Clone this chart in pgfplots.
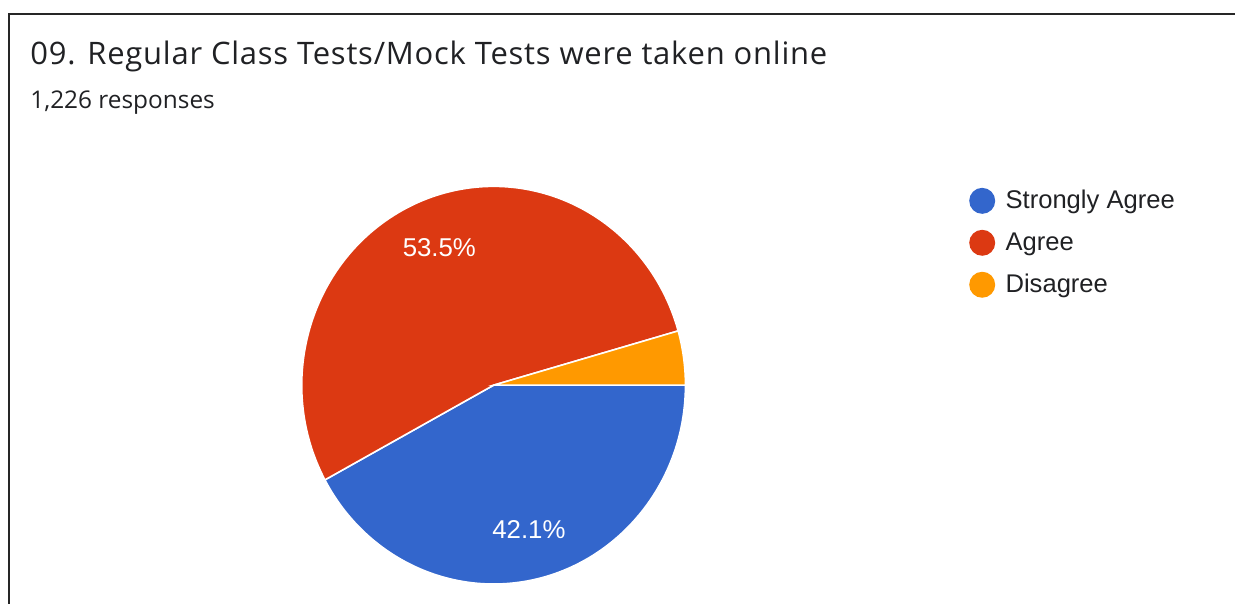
\documentclass[border=0pt]{standalone}
\usepackage{pgfplots}
\pgfplotsset{compat=1.18}
\usepackage{pgfplotstable}
\usetikzlibrary{calc}
\usepackage{fontspec}
\setmainfont{Liberation Sans}
\newfontfamily\gsans{Open Sans}
\newfontfamily\gsanswide[LetterSpace=2.5]{Open Sans}
\definecolor{sa}{HTML}{3366CC}
\definecolor{ag}{HTML}{DC3912}
\definecolor{dis}{HTML}{FF9900}
\definecolor{txt}{HTML}{202124}
\pgfplotstableread{
label value
StronglyAgree 42.1
Agree 53.5
Disagree 4.4
}\piedata
\begin{document}
\begin{tikzpicture}
\pgfplotstablegetelem{0}{value}\of\piedata \let\vA\pgfplotsretval
\pgfplotstablegetelem{1}{value}\of\piedata \let\vB\pgfplotsretval
\pgfplotstablegetelem{2}{value}\of\piedata \let\vC\pgfplotsretval
\pgfmathsetmacro\tot{\vA+\vB+\vC}
\pgfmathsetmacro\aA{-\vA/\tot*360}
\pgfmathsetmacro\aB{\aA-\vB/\tot*360}
\pgfmathsetmacro\mA{\aA/2}
\pgfmathsetmacro\mB{(\aA+\aB)/2}
\begin{axis}[width=618pt,height=302pt,scale only axis,
  xmin=0,xmax=1236,ymin=0,ymax=604,hide axis,clip=false]
\path (axis cs:0,0) rectangle (axis cs:1236,604);
\draw[line width=1pt, color=black!85] (axis cs:9.5,0) -- (axis cs:9.5,590) -- (axis cs:1236,590);
% pie slices
\fill[sa, draw=white, line width=0.8pt] (axis cs:494,218.5) -- ++(0:96pt and 99.5pt)
  arc[start angle=0,end angle=\aA,x radius=96pt,y radius=99.5pt] -- cycle;
\fill[ag, draw=white, line width=0.8pt] (axis cs:494,218.5) -- ++(\aA:96pt and 99.5pt)
  arc[start angle=\aA,end angle=\aB,x radius=96pt,y radius=99.5pt] -- cycle;
\fill[dis, draw=white, line width=0.8pt] (axis cs:494,218.5) -- ++(\aB:96pt and 99.5pt)
  arc[start angle=\aB,end angle=-360,x radius=96pt,y radius=99.5pt] -- cycle;
% slice labels
\node[text=white, font=\fontsize{12.9}{15}\selectfont, inner sep=0pt] at ($(axis cs:494,218.5)+(\mA:72pt and 74.5pt)$) {\vA\%};
\node[text=white, font=\fontsize{12.9}{15}\selectfont, inner sep=0pt] at ($(axis cs:494,218.5)+(\mB:72pt and 74.5pt)$) {\vB\%};
% title
\node[anchor=base west, inner sep=0pt, text=txt, font=\gsanswide\fontsize{15.5}{18}\selectfont] at (axis cs:30,539) {09. Regular Class Tests/Mock Tests were taken online};
\node[anchor=base west, inner sep=0pt, text=txt, font=\gsans\fontsize{12.2}{14}\selectfont] at (axis cs:30,495) {1,226 responses};
% legend
\fill[sa] (axis cs:983,403) circle[radius=6.5pt];
\fill[ag] (axis cs:983,361) circle[radius=6.5pt];
\fill[dis] (axis cs:983,319) circle[radius=6.5pt];
\node[anchor=base west, inner sep=0pt, text=txt, font=\fontsize{12.8}{15}\selectfont] at (axis cs:1006,395) {Strongly Agree};
\node[anchor=base west, inner sep=0pt, text=txt, font=\fontsize{12.8}{15}\selectfont] at (axis cs:1006,353) {Agree};
\node[anchor=base west, inner sep=0pt, text=txt, font=\fontsize{12.8}{15}\selectfont] at (axis cs:1006,311) {Disagree};
\end{axis}
\end{tikzpicture}
\end{document}
